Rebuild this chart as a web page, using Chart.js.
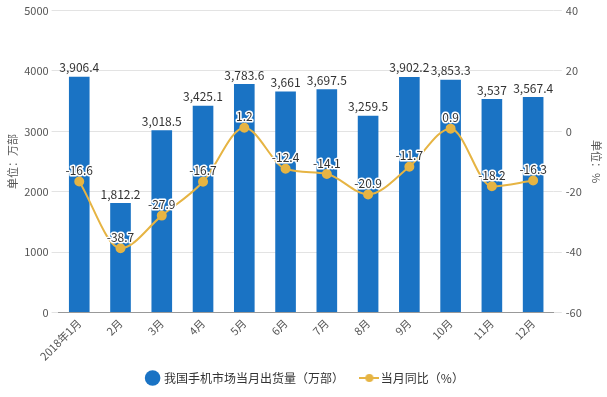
<!DOCTYPE html>
<html>
<head>
<meta charset="utf-8">
<script src="https://cdn.jsdelivr.net/npm/chart.js@4/dist/chart.umd.min.js"></script>
<style>
  body { margin: 0; background: #fff; }
  #wrap { width: 607px; height: 397px; }
</style>
</head>
<body>
<div id="wrap"><canvas id="phoneChart"></canvas></div>
<script>
// months + values
const months = ['2018年1月', '2月', '3月', '4月', '5月', '6月', '7月', '8月', '9月', '10月', '11月', '12月'];
const shipments = [3906.4, 1812.2, 3018.5, 3425.1, 3783.6, 3661, 3697.5, 3259.5, 3902.2, 3853.3, 3537, 3567.4];
const yoyChange = [-16.6, -38.7, -27.9, -16.7, 1.2, -12.4, -14.1, -20.9, -11.7, 0.9, -18.2, -16.3];

const blue = '#1a73c4';
const gold = '#e6b443';
const fontFamily = '"Noto Sans CJK SC", "Noto Sans", sans-serif';

// little icon for the line legend entry (line with a dot)
const lineIcon = document.createElement('canvas');
lineIcon.width = 20;
lineIcon.height = 10;
(function () {
  let c = lineIcon.getContext('2d');
  c.strokeStyle = gold;
  c.lineWidth = 2;
  c.beginPath();
  c.moveTo(0, 5);
  c.lineTo(20, 5);
  c.stroke();
  c.fillStyle = gold;
  c.beginPath();
  c.arc(10, 5, 4, 0, Math.PI * 2);
  c.fill();
})();

// draw the value labels ourselves, no datalabels plugin available
const valueLabels = {
  id: 'valueLabels',
  afterDatasetsDraw(chart) {
    let ctx = chart.ctx;
    ctx.save();
    ctx.textAlign = 'center';
    ctx.textBaseline = 'bottom';
    ctx.font = '12px ' + fontFamily;

    // bar labels
    chart.getDatasetMeta(0).data.forEach((bar, i) => {
      ctx.fillStyle = '#333';
      ctx.fillText(shipments[i].toLocaleString('en-US'), bar.x, bar.y - 3);
    });

    // line labels with white halo
    chart.getDatasetMeta(1).data.forEach((pt, i) => {
      let txt = String(yoyChange[i]);
      ctx.lineWidth = 3;
      ctx.strokeStyle = '#fff';
      ctx.lineJoin = 'round';
      ctx.strokeText(txt, pt.x, pt.y - 5);
      ctx.fillStyle = '#333';
      ctx.fillText(txt, pt.x, pt.y - 5);
    });
    ctx.restore();
  }
};

let ctx = document.getElementById('phoneChart').getContext('2d');

new Chart(ctx, {
  type: 'bar',
  data: {
    labels: months,
    datasets: [{
      type: 'bar',
      label: '我国手机市场当月出货量（万部）',
      data: shipments,
      backgroundColor: blue,
      yAxisID: 'y',
      barPercentage: 0.5,
      categoryPercentage: 1,
      order: 2
    }, {
      type: 'line',
      label: '当月同比（%）',
      data: yoyChange,
      borderColor: gold,
      backgroundColor: gold,
      borderWidth: 2,
      pointRadius: 4,
      pointBackgroundColor: gold,
      pointBorderColor: gold,
      cubicInterpolationMode: 'monotone',
      yAxisID: 'y1',
      order: 1
    }]
  },
  options: {
    responsive: true,
    maintainAspectRatio: false,
    animation: false,
    layout: { padding: { top: 4, left: 4, right: 0, bottom: 3 } },
    plugins: {
      tooltip: { enabled: false },
      legend: {
        position: 'bottom',
        labels: {
          usePointStyle: true,
          boxWidth: 11,
          boxHeight: 11,
          padding: 9,
          color: '#333',
          font: { family: fontFamily, size: 12 },
          generateLabels(chart) {
            let items = Chart.defaults.plugins.legend.labels.generateLabels(chart);
            items.sort((a, b) => a.datasetIndex - b.datasetIndex);
            items.forEach(item => {
              if (item.datasetIndex === 0) {
                item.pointStyle = 'circle';
                item.fillStyle = blue;
                item.strokeStyle = blue;
                item.text = item.text + '    ';
              } else {
                item.pointStyle = lineIcon;
              }
            });
            return items;
          }
        }
      }
    },
    scales: {
      x: {
        grid: { display: false, drawOnChartArea: false, drawTicks: true, tickLength: 4, color: '#999' },
        border: { color: '#999' },
        ticks: {
          color: '#555',
          font: { family: fontFamily, size: 11 },
          maxRotation: 45,
          minRotation: 45,
          padding: 0
        }
      },
      y: {
        position: 'left',
        min: 0,
        max: 5000,
        ticks: {
          stepSize: 1000,
          color: '#555',
          font: { family: fontFamily, size: 11 },
          padding: 3,
          callback: v => String(v)
        },
        grid: { color: '#e3e3e3', tickLength: 7 },
        border: { display: false },
        title: { display: true, text: '单位：万部', color: '#555', font: { family: fontFamily, size: 11 }, padding: 2 }
      },
      y1: {
        position: 'right',
        min: -60,
        max: 40,
        ticks: { stepSize: 20, color: '#555', font: { family: fontFamily, size: 11 }, padding: 4 },
        grid: { drawOnChartArea: false, color: '#e3e3e3', tickLength: 8 },
        border: { display: false },
        title: { display: true, text: '单位：%', color: '#555', font: { family: fontFamily, size: 11 } }
      }
    }
  },
  plugins: [valueLabels]
});
</script>
</body>
</html>
